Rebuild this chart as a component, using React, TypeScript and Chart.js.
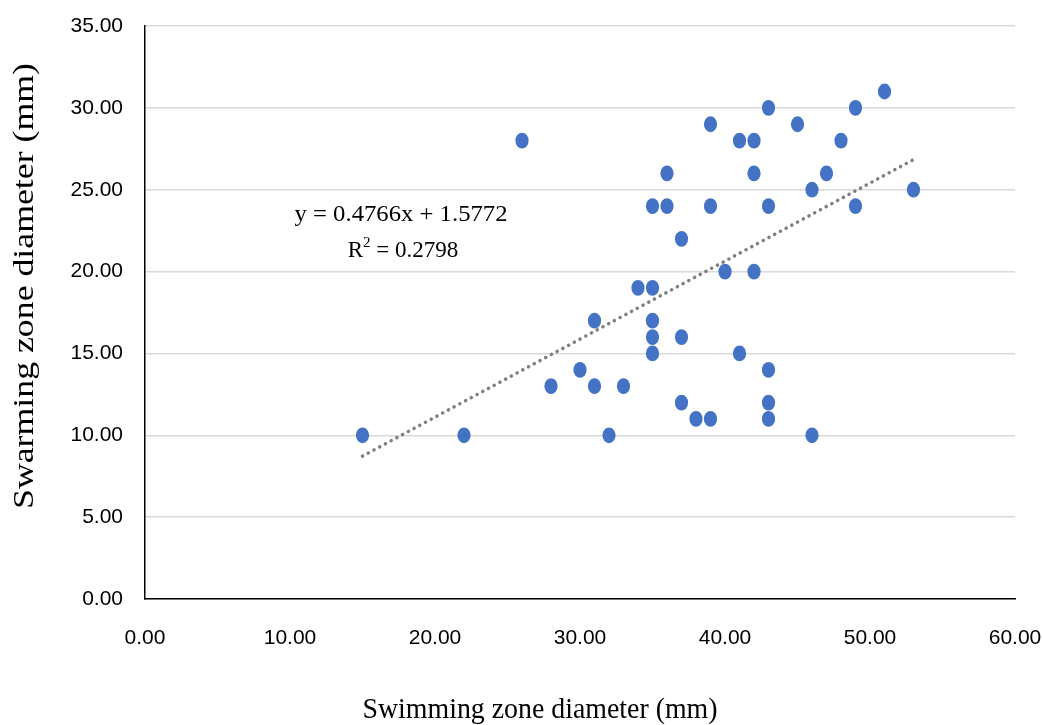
import React, { useEffect, useRef } from "react";
import { Chart, registerables } from "chart.js";

Chart.register(...registerables);

const swimming = [15, 22, 26, 28, 30, 31, 31, 32, 33, 34, 35, 35, 35, 35, 35, 36, 36, 37, 37, 37, 38, 39, 39, 39, 40, 41, 41, 42, 42, 42, 43, 43, 43, 43, 43, 45, 46, 46, 47, 48, 49, 49, 51, 53];
const swarming = [10, 10, 28, 13, 14, 17, 13, 10, 13, 19, 24, 19, 17, 16, 15, 26, 24, 22, 16, 12, 11, 29, 24, 11, 20, 28, 15, 28, 26, 20, 30, 24, 14, 12, 11, 29, 25, 10, 26, 28, 30, 24, 31, 25];

const slope = 0.4766;
const intercept = 1.5772;
const trendX = [15, 53];
const equationText = "y = 0.4766x + 1.5772";
const r2Text = "0.2798";

const xTicks = [0, 10, 20, 30, 40, 50, 60];
const yTicks = [0, 5, 10, 15, 20, 25, 30, 35];

const xTitle = "Swimming zone diameter (mm)";
const yTitle = "Swarming zone diameter (mm)";

function fitText(ctx: CanvasRenderingContext2D, text: string, x: number, y: number, width: number) {
  const w = ctx.measureText(text).width;
  ctx.save();
  ctx.translate(x, y);
  ctx.scale(width / w, 1);
  ctx.textAlign = "center";
  ctx.fillText(text, 0, 0);
  ctx.restore();
}

export default function App() {
  const ref = useRef<HTMLCanvasElement>(null);
  useEffect(() => {
    const points = swimming.map((x, i) => ({ x, y: swarming[i] }));
    const trend = trendX.map((x) => ({ x, y: slope * x + intercept }));
    const serif = "'Liberation Serif', 'Times New Roman', serif";
    const ellipsePlugin = {
      id: "ellipses",
      beforeDatasetsDraw(chart: any) {
        const ctx: CanvasRenderingContext2D = chart.ctx;
        const meta = chart.getDatasetMeta(0);
        ctx.save();
        ctx.fillStyle = "#4472C4";
        meta.data.forEach((el: any) => {
          ctx.beginPath();
          ctx.ellipse(el.x, el.y, 6.6, 7.9, 0, 0, Math.PI * 2);
          ctx.fill();
        });
        ctx.restore();
      },
    };
    const textPlugin = {
      id: "texts",
      afterDraw(chart: any) {
        const ctx: CanvasRenderingContext2D = chart.ctx;
        ctx.save();
        ctx.fillStyle = "#000";
        ctx.textBaseline = "alphabetic";
        ctx.font = "23px " + serif;
        fitText(ctx, equationText, 401, 221, 213);
        const rest = " = " + r2Text;
        ctx.font = "23px " + serif;
        const wR = ctx.measureText("R").width;
        const wRest = ctx.measureText(rest).width;
        ctx.font = "15px " + serif;
        const wSup = ctx.measureText("2").width;
        const total = wR + wSup + wRest;
        const x0 = 403 - total / 2;
        ctx.textAlign = "left";
        ctx.font = "23px " + serif;
        ctx.fillText("R", x0, 257);
        ctx.font = "15px " + serif;
        ctx.fillText("2", x0 + wR, 247);
        ctx.font = "23px " + serif;
        ctx.fillText(rest, x0 + wR + wSup, 257);
        ctx.font = "29px " + serif;
        fitText(ctx, xTitle, 540, 718, 355);
        ctx.save();
        ctx.translate(33, 286);
        ctx.rotate(-Math.PI / 2);
        fitText(ctx, yTitle, 0, 0, 446);
        ctx.restore();
        ctx.restore();
      },
    };
    const chart = new Chart(ref.current!, {
      type: "scatter",
      data: {
        datasets: [
          {
            label: "data",
            data: points,
            pointRadius: 0,
            backgroundColor: "#4472C4",
            borderColor: "#4472C4",
            order: 2,
          },
          {
            type: "line",
            label: "trend",
            data: trend,
            showLine: true,
            pointRadius: 0,
            borderColor: "#7F7F7F",
            borderWidth: 3.5,
            borderDash: [0.1, 6.4],
            borderCapStyle: "round",
            fill: false,
            order: 1,
          } as any,
        ],
      },
      options: {
        animation: false,
        responsive: false,
        maintainAspectRatio: false,
        events: [],
        layout: { padding: { top: 26, right: 27, left: 0, bottom: 0 } },
        plugins: { legend: { display: false }, tooltip: { enabled: false } },
        scales: {
          x: {
            type: "linear",
            min: 0,
            max: 60,
            afterBuildTicks: (s: any) => { s.ticks = xTicks.map((v) => ({ value: v })); },
            afterFit: (s: any) => {
              s.height = 126;
              s.paddingLeft = 0;
              s.paddingRight = 0;
            },
            grid: { display: false, drawTicks: false },
            border: { display: true, color: "#000", width: 1.5 },
            ticks: {
              padding: 27,
              color: "#000",
              font: { family: "'Liberation Sans Narrow', 'Liberation Sans', Arial, sans-serif", size: 21 },
              callback: (v: any) => Number(v).toFixed(2),
              maxRotation: 0,
            },
          },
          y: {
            type: "linear",
            min: 0,
            max: 35,
            afterBuildTicks: (s: any) => { s.ticks = yTicks.map((v) => ({ value: v })); },
            afterFit: (s: any) => {
              s.width = 145;
              s.paddingTop = 0;
              s.paddingBottom = 0;
            },
            grid: { display: true, color: "#D9D9D9", lineWidth: 1.5, drawTicks: false },
            border: { display: true, color: "#000", width: 1.5 },
            ticks: {
              padding: 22,
              color: "#000",
              font: { family: "'Liberation Sans Narrow', 'Liberation Sans', Arial, sans-serif", size: 21 },
              callback: (v: any) => Number(v).toFixed(2),
            },
          },
        },
      },
      plugins: [ellipsePlugin, textPlugin],
    } as any);
    return () => chart.destroy();
  }, []);
  return (
    <div style={{ position: "fixed", left: 0, top: 0, width: 1042, height: 725, background: "#fff" }}>
      <canvas ref={ref} width={1042} height={725} style={{ width: 1042, height: 725 }} />
    </div>
  );
}
